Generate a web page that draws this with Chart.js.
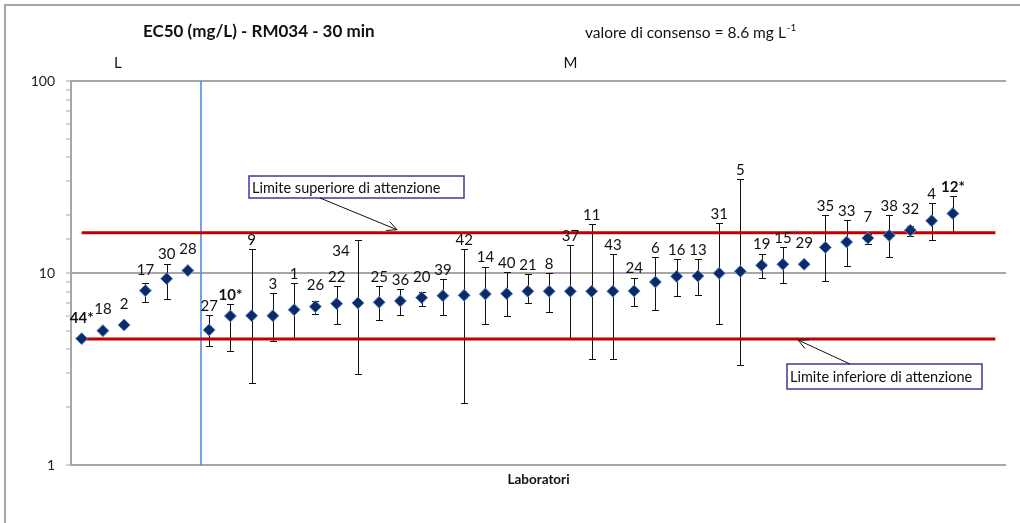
<!DOCTYPE html>
<html>
<head>
<meta charset="utf-8">
<script src="https://cdn.jsdelivr.net/npm/chart.js@4"></script>
<style>
  body { margin: 0; background: #fff; }
</style>
</head>
<body>
<canvas id="chart" width="1020" height="523"></canvas>
<script>
// lab codes in plotted order (* = bold in the original)
const labs = ['44*', '18', '2', '17', '30', '28', '27', '10*', '9', '3', '1', '26', '22', '34', '25', '36', '20', '39', '42', '14',
    '40', '21', '8', '37', '11', '43', '24', '6', '16', '13', '31', '5', '19', '15', '29', '35', '33', '7', '38', '32', '4', '12*']

// EC50 (mg/L) and the ends of each error bar
const ec50 = [4.55, 5.01, 5.36, 8.09, 9.34, 10.3, 5.05, 5.97, 5.99, 5.99, 6.44, 6.68, 6.92, 6.98, 7.04, 7.15, 7.44, 7.62, 7.65, 7.77,
    7.80, 8.03, 8.03, 8.03, 8.03, 8.03, 8.06, 8.98, 9.61, 9.64, 9.96, 10.2, 10.97, 11.1, 11.1, 13.6, 14.5, 15.2, 15.7, 16.7, 18.7, 20.4]
const errLow = [null, null, null, 7.06, 7.3, null, 4.17, 3.91, 2.66, 4.42, 4.6, 6.14, 5.42, 2.97, 5.67, 6.07, 6.76, 6.04, 2.11, 5.42,
    5.95, 6.95, 6.24, 4.53, 3.58, 3.58, 6.73, 6.44, 7.62, 7.65, 5.42, 3.31, 9.46, 8.9, null, 9.05, 10.9, 14.2, 12.1, 15.6, 14.9, 16.4]
const errHigh = [null, null, null, 8.9, 11.2, null, 6.02, 6.92, 13.3, 7.84, 8.9, 7.18, 8.55, 14.8, 8.59, 8.22, 7.99, 9.3, 13.3, 10.8,
    10.08, 9.92, 9.95, 14.0, 17.9, 12.5, 9.46, 12.1, 11.8, 11.8, 18.2, 30.9, 12.5, 13.7, null, 20.0, 18.9, 16.0, 20.0, 17.6, 23.2, 25.1]

const upperLimit = 16.2
const lowerLimit = 4.53
const yTicks = [1, 10, 100]
const slots = 44          // category slots on the x axis
const groupSplit = 5.6    // boundary between group L and group M
const groups = [{ text: 'L', at: 1.7 }, { text: 'M', at: 23 }]

const FONT = 'Lato, "Open Sans", sans-serif'

const extras = {
    id: 'extras',
    beforeDraw(chart) {
        const ctx = chart.ctx
        const x = chart.scales.x
        const area = chart.chartArea
        ctx.save()
        // outer frame
        ctx.strokeStyle = '#a6a6a6'
        ctx.lineWidth = 2
        ctx.beginPath()
        ctx.moveTo(5, 523)
        ctx.lineTo(5, 5)
        ctx.lineTo(1020, 5)
        ctx.stroke()

        ctx.fillStyle = '#111'
        ctx.textBaseline = 'middle'
        ctx.textAlign = 'left'
        ctx.font = 'bold 17px ' + FONT
        ctx.fillText('EC50 (mg/L) - RM034 - 30 min', 143, 32)

        ctx.font = '15.5px ' + FONT
        const cons = 'valore di consenso = 8.6 mg L'
        ctx.fillText(cons, 585, 33)
        const w = ctx.measureText(cons).width
        ctx.font = '10px ' + FONT
        ctx.fillText('-1', 585 + w + 1, 28)

        ctx.font = '15px ' + FONT
        ctx.textAlign = 'center'
        for (const g of groups) {
            ctx.fillText(g.text, x.getPixelForValue(g.at), 63)
        }

        ctx.font = 'bold 13.5px ' + FONT
        ctx.fillText('Laboratori', (area.left + area.right) / 2, 480)
        ctx.restore()
    },
    beforeDatasetsDraw(chart) {
        const ctx = chart.ctx
        const x = chart.scales.x
        const y = chart.scales.y
        const area = chart.chartArea
        ctx.save()
        // L / M separator
        const sx = Math.round(x.getPixelForValue(groupSplit))
        ctx.strokeStyle = '#3f86e6'
        ctx.lineWidth = 1.5
        ctx.beginPath()
        ctx.moveTo(sx, area.top)
        ctx.lineTo(sx, area.bottom)
        ctx.stroke()

        // error bars
        ctx.strokeStyle = '#111'
        ctx.lineWidth = 1
        for (let i = 0; i < ec50.length; i++) {
            if (errLow[i] == null) continue
            const px = Math.round(x.getPixelForValue(i)) + 0.5
            const top = Math.round(y.getPixelForValue(errHigh[i])) + 0.5
            const bot = Math.round(y.getPixelForValue(errLow[i])) + 0.5
            ctx.beginPath()
            ctx.moveTo(px, top)
            ctx.lineTo(px, bot)
            ctx.moveTo(px - 3.5, top)
            ctx.lineTo(px + 3.5, top)
            ctx.moveTo(px - 3.5, bot)
            ctx.lineTo(px + 3.5, bot)
            ctx.stroke()
        }
        ctx.restore()
    },
    afterDatasetsDraw(chart) {
        const ctx = chart.ctx
        const x = chart.scales.x
        const y = chart.scales.y
        ctx.save()
        // point labels
        ctx.fillStyle = '#111'
        ctx.textAlign = 'center'
        ctx.textBaseline = 'middle'
        for (let i = 0; i < labs.length; i++) {
            let px = x.getPixelForValue(i)
            const py = y.getPixelForValue(ec50[i])
            let ly = py - 21
            if (errHigh[i] != null) ly = Math.min(ly, y.getPixelForValue(errHigh[i]) - 9)
            // the label of lab 34 was moved aside of its long bar
            if (labs[i] === '34') { px -= 17; ly += 20 }
            ctx.font = (labs[i].includes('*') ? 'bold ' : '') + '15px ' + FONT
            ctx.fillText(labs[i], px, ly)
        }

        // limit call-outs
        const callout = (text, bx, by, bw, bh, tx, ty, hx, hy) => {
            ctx.strokeStyle = '#3a3aa0'
            ctx.lineWidth = 1.5
            ctx.fillStyle = '#fff'
            ctx.fillRect(bx, by, bw, bh)
            ctx.strokeRect(bx, by, bw, bh)
            ctx.fillStyle = '#111'
            ctx.textAlign = 'left'
            ctx.font = '14.5px ' + FONT
            ctx.fillText(text, bx + 3, by + bh / 2 + 1)
            ctx.strokeStyle = '#111'
            ctx.lineWidth = 1
            ctx.beginPath()
            ctx.moveTo(tx, ty)
            ctx.lineTo(hx, hy)
            const a = Math.atan2(hy - ty, hx - tx)
            for (const d of [0.45, -0.45]) {
                ctx.moveTo(hx, hy)
                ctx.lineTo(hx - 11 * Math.cos(a + d), hy - 11 * Math.sin(a + d))
            }
            ctx.stroke()
        }
        const yu = y.getPixelForValue(upperLimit)
        const yl = y.getPixelForValue(lowerLimit)
        callout('Limite superiore di attenzione', 249, 176, 215, 22, 320, 198, 397, yu - 3)
        callout('Limite inferiore di attenzione', 787, 364, 195, 25, 850, 364, 798, yl + 1)
        ctx.restore()
    }
}

const ctx = document.getElementById('chart')
new Chart(ctx, {
    type: 'scatter',
    data: {
        datasets: [
            {
                label: 'EC50',
                data: ec50.map((v, i) => ({ x: i, y: v })),
                pointStyle: 'rectRot',
                pointRadius: 6,
                backgroundColor: '#0c2a66',
                borderColor: '#5a8ad0',
                borderWidth: 1,
                order: 1
            },
            {
                label: 'upper',
                data: [{ x: 0, y: upperLimit }, { x: slots - 1, y: upperLimit }],
                showLine: true,
                borderColor: '#c00000',
                borderWidth: 3,
                pointRadius: 0,
                order: 2
            },
            {
                label: 'lower',
                data: [{ x: 0, y: lowerLimit }, { x: slots - 1, y: lowerLimit }],
                showLine: true,
                borderColor: '#c00000',
                borderWidth: 3,
                pointRadius: 0,
                order: 2
            }
        ]
    },
    options: {
        responsive: false,
        animation: false,
        layout: { padding: { left: 0, right: 14, top: 81, bottom: 58 } },
        plugins: {
            legend: { display: false },
            tooltip: { enabled: false }
        },
        scales: {
            x: {
                type: 'linear',
                min: -0.5,
                max: slots - 0.5,
                display: false
            },
            y: {
                type: 'logarithmic',
                min: 1,
                max: 100,
                afterFit: s => { s.width = 71 },
                border: { color: '#a6a6a6', width: 2 },
                grid: {
                    color: c => yTicks.some(t => Math.abs(c.tick.value - t) < 1e-6) ? '#a6a6a6' : 'rgba(0,0,0,0)',
                    lineWidth: 2,
                    tickColor: '#a6a6a6',
                    tickWidth: 1,
                    tickLength: 5
                },
                ticks: {
                    autoSkip: false,
                    padding: 11,
                    color: '#222',
                    font: { family: FONT, size: 14 },
                    callback: v => yTicks.some(t => Math.abs(v - t) < 1e-6) ? String(v) : ''
                }
            }
        }
    },
    plugins: [extras]
})
</script>
</body>
</html>
